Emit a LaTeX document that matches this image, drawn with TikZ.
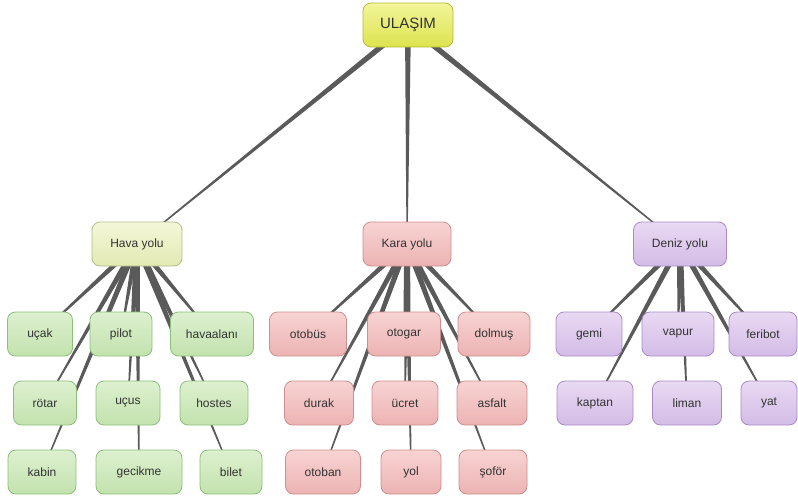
\documentclass[tikz,border=0pt]{standalone}
\usepackage{fontspec}
\setmainfont{Liberation Sans}
\usetikzlibrary{calc,backgrounds}

\definecolor{txt}{HTML}{333333}
\definecolor{edgec}{HTML}{5A5A5A}
\definecolor{rootT}{HTML}{F2F59A}
\definecolor{rootB}{HTML}{DDE34E}
\definecolor{rootD}{HTML}{B5BA3C}
\definecolor{havaT}{HTML}{F4F7D8}
\definecolor{havaB}{HTML}{E3E9B4}
\definecolor{havaD}{HTML}{B3BB88}
\definecolor{grT}{HTML}{DDF0CF}
\definecolor{grB}{HTML}{C3E2AE}
\definecolor{grD}{HTML}{8DBF7C}
\definecolor{pkT}{HTML}{F8D3D3}
\definecolor{pkB}{HTML}{EDB3B3}
\definecolor{pkD}{HTML}{CC8E8E}
\definecolor{puT}{HTML}{E9D9F3}
\definecolor{puB}{HTML}{D3BCE6}
\definecolor{puD}{HTML}{A98AC5}

\tikzset{
  box/.style={draw, rounded corners=8pt, minimum height=44, line width=0.8pt,
    text=txt, font=\fontsize{12}{14}\selectfont},
  rootbox/.style={box, top color=rootT, bottom color=rootB, draw=rootD,
    font=\fontsize{15}{18}\selectfont},
  havabox/.style={box, top color=havaT, bottom color=havaB, draw=havaD},
  greenbox/.style={box, top color=grT, bottom color=grB, draw=grD},
  pinkbox/.style={box, top color=pkT, bottom color=pkB, draw=pkD},
  purplebox/.style={box, top color=puT, bottom color=puB, draw=puD}
}

% tapered connector: wide at the parent, thin at the child
\newcommand{\branch}[2]{%
  \fill[edgec] ($(#1)!3pt!90:(#2)$) -- ($(#2)!0.5pt!-90:(#1)$)
    -- ($(#2)!0.5pt!90:(#1)$) -- ($(#1)!3pt!-90:(#2)$) -- cycle;}

\begin{document}
\begin{tikzpicture}[x=1pt,y=-1pt]
\useasboundingbox (0,0) rectangle (798,501);

% root
\node[rootbox, minimum width=90] (ulasim) at (408,25) {ULAŞIM};

% Hava yolu
\node[havabox, minimum width=90] (hava) at (137,244) {Hava yolu};
\node[greenbox, minimum width=65] (ucak) at (40,334) {uçak};
\node[greenbox, minimum width=62] (pilot) at (121,334) {pilot};
\node[greenbox, minimum width=83] (havaalani) at (212,334) {havaalanı};
\node[greenbox, minimum width=63] (rotar) at (45,403) {rötar};
\node[greenbox, minimum width=64] (ucus) at (128,403) {uçus};
\node[greenbox, minimum width=68] (hostes) at (214,403) {hostes};
\node[greenbox, minimum width=68] (kabin) at (42,472) {kabin};
\node[greenbox, minimum width=86] (gecikme) at (139,472) {gecikme};
\node[greenbox, minimum width=62] (bilet) at (231,472) {bilet};

% Kara yolu
\node[pinkbox, minimum width=88] (kara) at (407,244) {Kara yolu};
\node[pinkbox, minimum width=77] (otobus) at (308,334) {otobüs};
\node[pinkbox, minimum width=73] (otogar) at (404,334) {otogar};
\node[pinkbox, minimum width=72] (dolmus) at (494,334) {dolmuş};
\node[pinkbox, minimum width=69] (durak) at (319,403) {durak};
\node[pinkbox, minimum width=66] (ucret) at (405,403) {ücret};
\node[pinkbox, minimum width=70] (asfalt) at (492,403) {asfalt};
\node[pinkbox, minimum width=75] (otoban) at (323,472) {otoban};
\node[pinkbox, minimum width=60] (yol) at (411,472) {yol};
\node[pinkbox, minimum width=68] (sofor) at (493,472) {şoför};

% Deniz yolu
\node[purplebox, minimum width=93] (deniz) at (680,244) {Deniz yolu};
\node[purplebox, minimum width=66] (gemi) at (589,334) {gemi};
\node[purplebox, minimum width=72] (vapur) at (678,334) {vapur};
\node[purplebox, minimum width=68] (feribot) at (763,334) {feribot};
\node[purplebox, minimum width=76] (kaptan) at (595,403) {kaptan};
\node[purplebox, minimum width=69] (liman) at (687,403) {liman};
\node[purplebox, minimum width=56] (yat) at (769,403) {yat};

\begin{pgfonlayer}{background}
\foreach \c in {hava,kara,deniz} {\branch{ulasim}{\c}}
\foreach \c in {ucak,pilot,havaalani,rotar,ucus,hostes,kabin,gecikme,bilet}
  {\branch{hava}{\c}}
\foreach \c in {otobus,otogar,dolmus,durak,ucret,asfalt,otoban,yol,sofor}
  {\branch{kara}{\c}}
\foreach \c in {gemi,vapur,feribot,kaptan,liman,yat}
  {\branch{deniz}{\c}}
\end{pgfonlayer}
\end{tikzpicture}
\end{document}
